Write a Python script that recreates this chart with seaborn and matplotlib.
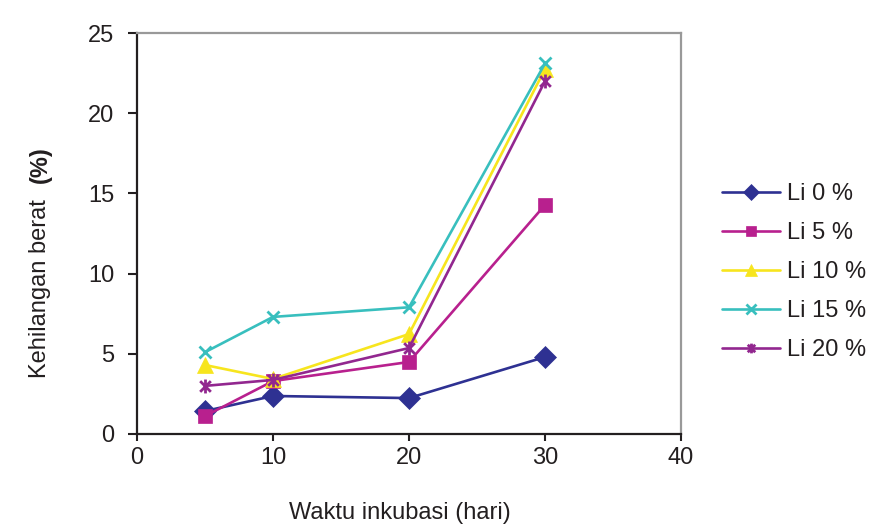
import matplotlib
matplotlib.use("Agg")
import matplotlib.pyplot as plt
from matplotlib.path import Path
import seaborn as sns
import pandas as pd

# Data
days = [5, 10, 20, 30]
series_names = ["Li 0 %", "Li 5 %", "Li 10 %", "Li 15 %", "Li 20 %"]
li0 = [1.43, 2.37, 2.24, 4.80]
li5 = [1.12, 3.30, 4.49, 14.28]
li10 = [4.30, 3.43, 6.23, 22.75]
li15 = [5.10, 7.30, 7.90, 23.10]
li20 = [3.00, 3.37, 5.36, 22.00]
x_ticks = [0, 10, 20, 30, 40]
y_ticks = [0, 5, 10, 15, 20, 25]

sns.set_style("white")
plt.rcParams["font.family"] = ["Liberation Sans", "DejaVu Sans"]
FS = 17
TXT = "#231F20"

colors = ["#2E3192", "#B8208E", "#F7E51E", "#38BFBE", "#92278F"]
star = Path([(-1, -1), (1, 1), (-1, 1), (1, -1), (0, -1.3), (0, 1.3)],
            [Path.MOVETO, Path.LINETO, Path.MOVETO, Path.LINETO, Path.MOVETO, Path.LINETO])
markers = ["D", "s", "^", "x", star]
msizes = [11, 10, 12, 9, 10]
leg_msizes = [8, 7, 9, 7, 7]
filled = [True, True, True, False, False]

fig = plt.figure(figsize=(8.74, 5.26), dpi=100)
ax = fig.add_axes([137/874, 1-434/526, (681-137)/874, (434-33)/526])

for name, vals, col, mk, ms, fl in zip(series_names, [li0, li5, li10, li15, li20],
                                       colors, markers, msizes, filled):
    d = pd.DataFrame({"Waktu": days, "Nilai": vals})
    sns.lineplot(data=d, x="Waktu", y="Nilai", color=col, marker=mk,
                 markersize=ms, linewidth=1.9, ax=ax, label=name,
                 markeredgewidth=(0.5 if fl else 2.0),
                 markeredgecolor=col, markerfacecolor=col)

ax.set_xlim(0, 40)
ax.set_ylim(0, 25)
ax.set_xticks(x_ticks)
ax.set_yticks(y_ticks)
ax.set_xticklabels([str(t) for t in x_ticks])
ax.set_yticklabels([str(t) for t in y_ticks])
ax.tick_params(axis="x", direction="out", length=5, width=1.5, color=TXT,
               labelsize=FS, pad=4, bottom=True, labelcolor=TXT)
ax.tick_params(axis="y", direction="out", length=6.5, width=1.5, color=TXT,
               labelsize=FS, pad=10, left=True, labelcolor=TXT)
for s in ["left", "bottom"]:
    ax.spines[s].set_color(TXT)
    ax.spines[s].set_linewidth(1.6)
for s in ["top", "right"]:
    ax.spines[s].set_color("#999999")
    ax.spines[s].set_linewidth(1.6)
ax.set_xlabel("")
ax.set_ylabel("")
ax.grid(False)

fig.text(400/874, 1-513/526, "Waktu inkubasi (hari)", ha="center", va="center",
         fontsize=FS, color=TXT)
fig.text(40/874, 1-289/526, "Kehilangan berat", ha="center", va="center",
         rotation=90, fontsize=FS, color=TXT)
fig.text(40/874, 1-165/526, "(%)", ha="center", va="center",
         rotation=90, fontsize=FS, color=TXT, fontweight="bold")

handles, labels = ax.get_legend_handles_labels()
if ax.legend_:
    ax.legend_.remove()
leg = fig.legend(handles, labels, loc="center left",
                 bbox_to_anchor=(722/874, 1-272/526), frameon=False,
                 fontsize=FS, handlelength=2.45, handletextpad=0.3,
                 labelspacing=0.72, borderaxespad=0, borderpad=0)
for t in leg.get_texts():
    t.set_color(TXT)
for h, ms in zip(leg.legend_handles, leg_msizes):
    h.set_markersize(ms)

fig.savefig("out.png", dpi=100)
